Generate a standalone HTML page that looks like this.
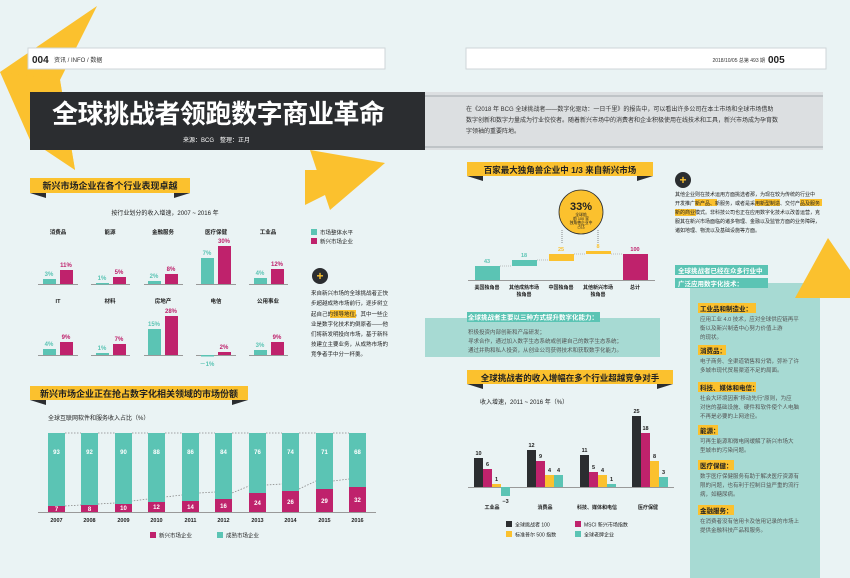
<!DOCTYPE html>
<html><head><meta charset="utf-8"><style>
html,body{margin:0;padding:0;background:#eaf3f4;}
svg{display:block;font-family:"Liberation Sans","Noto Sans CJK SC",sans-serif;}
</style></head><body>
<svg width="850" height="578" viewBox="0 0 850 578" xmlns="http://www.w3.org/2000/svg">
<rect width="850" height="578" fill="#eaf3f4"/>
<!-- yellow shapes -->
<polygon points="97,6 0,72 75,170 60,80" fill="#fbc12e"/>
<polygon points="0,72 60,80 75,170 30,140" fill="#fbc12e"/>
<polygon points="310,150 385,163 330,210" fill="#fbc12e"/>
<polygon points="305,170 375,170 305,205" fill="#fbc12e"/>
<!-- headers -->
<rect x="28" y="48" width="357" height="21" fill="#fff" stroke="#cfd6d8"/>
<text x="32" y="63" font-size="10" font-weight="bold" fill="#222">004</text>
<text x="54" y="62" font-size="6" fill="#333">资讯 / INFO / 数据</text>
<rect x="466" y="48" width="360" height="21" fill="#fff" stroke="#cfd6d8"/>
<text x="765" y="62" font-size="5" fill="#333" text-anchor="end">2018/10/05 总第 493 期</text>
<text x="768" y="63" font-size="10" font-weight="bold" fill="#222">005</text>
<!-- title -->
<rect x="425" y="92" width="398" height="58" fill="#dcdfe1"/>
<rect x="425" y="95" width="398" height="2" fill="#bfc4c7"/>
<rect x="425" y="146" width="398" height="2" fill="#bfc4c7"/>
<rect x="30" y="92" width="395" height="58" fill="#2b2d30"/>
<text x="52" y="123" font-size="26" font-weight="bold" fill="#fff" textLength="333">全球挑战者领跑数字商业革命</text>
<text x="183" y="142" font-size="6" fill="#fff">来源：BCG　整理：正月</text>
<g font-size="6" fill="#333">
<text x="466" y="111">在《2018 年 BCG 全球挑战者——数字化驱动：一日千里》的报告中，可以看出许多公司在本土市场和全球市场借助</text>
<text x="466" y="122">数字创新和数字力量成为行业佼佼者。随着新兴市场中的消费者和企业积极使用在线技术和工具，新兴市场成为孕育数</text>
<text x="466" y="133">字领袖的重要阵地。</text>
</g>
<!-- banner 1 -->
<polygon points="30,193 46,193 46,198" fill="#2b2d30"/><polygon points="190,193 174,193 174,198" fill="#2b2d30"/>
<rect x="30" y="178" width="160" height="15" fill="#fbc12e"/>
<text x="110" y="189" font-size="9" font-weight="bold" fill="#222" text-anchor="middle">新兴市场企业在各个行业表现卓越</text>
<text x="165" y="215" font-size="6" fill="#222" text-anchor="middle">按行业划分的收入增速，2007 ~ 2016 年</text>
<g font-size="5.5" font-weight="bold" fill="#222" text-anchor="middle">
<text x="58" y="234">消费品</text><text x="110" y="234">能源</text><text x="163" y="234">金融服务</text><text x="216" y="234">医疗保健</text><text x="268" y="234">工业品</text>
<text x="58" y="303">IT</text><text x="110" y="303">材料</text><text x="163" y="303">房地产</text><text x="216" y="303">电信</text><text x="268" y="303">公用事业</text>
</g>
<g stroke="#999" stroke-width="1">
<line x1="38" y1="284.5" x2="78" y2="284.5"/><line x1="91" y1="284.5" x2="130" y2="284.5"/><line x1="144" y1="284.5" x2="183" y2="284.5"/><line x1="196" y1="284.5" x2="236" y2="284.5"/><line x1="249" y1="284.5" x2="288" y2="284.5"/>
<line x1="38" y1="355.5" x2="78" y2="355.5"/><line x1="91" y1="355.5" x2="130" y2="355.5"/><line x1="144" y1="355.5" x2="183" y2="355.5"/><line x1="196" y1="355.5" x2="236" y2="355.5"/><line x1="249" y1="355.5" x2="288" y2="355.5"/>
</g>
<g fill="#5bc4b4">
<rect x="43" y="279" width="13" height="5"/><rect x="96" y="283" width="13" height="1.5"/><rect x="148" y="281" width="13" height="3"/><rect x="201" y="258" width="13" height="26"/><rect x="254" y="278" width="13" height="6"/>
<rect x="43" y="349" width="13" height="6"/><rect x="96" y="353" width="13" height="2"/><rect x="148" y="329" width="13" height="26"/><rect x="201" y="355" width="13" height="1.5"/><rect x="254" y="350" width="13" height="5"/>
</g>
<g fill="#bf226c">
<rect x="60" y="270" width="13" height="14"/><rect x="113" y="277" width="13" height="7"/><rect x="165" y="274" width="13" height="10"/><rect x="218" y="246" width="13" height="38"/><rect x="271" y="269" width="13" height="15"/>
<rect x="60" y="342" width="13" height="13"/><rect x="113" y="344" width="13" height="11"/><rect x="165" y="316" width="13" height="39"/><rect x="218" y="352" width="13" height="3"/><rect x="271" y="342" width="13" height="13"/>
</g>
<g font-size="6" font-weight="bold" text-anchor="middle">
<g fill="#5bc4b4"><text x="49" y="276">3%</text><text x="102" y="280">1%</text><text x="154" y="278">2%</text><text x="207" y="255">7%</text><text x="260" y="275">4%</text>
<text x="49" y="346">4%</text><text x="102" y="350">1%</text><text x="154" y="326">15%</text><text x="207" y="366">－1%</text><text x="260" y="347">3%</text></g>
<g fill="#bf226c"><text x="66" y="267">11%</text><text x="119" y="274">5%</text><text x="171" y="271">8%</text><text x="224" y="243">30%</text><text x="277" y="266">12%</text>
<text x="66" y="339">9%</text><text x="119" y="341">7%</text><text x="171" y="313">28%</text><text x="224" y="349">2%</text><text x="277" y="339">9%</text></g>
</g>
<rect x="311" y="229" width="6" height="6" fill="#5bc4b4"/><text x="320" y="234.5" font-size="5.5" fill="#222">市场整体水平</text>
<rect x="311" y="238" width="6" height="6" fill="#bf226c"/><text x="320" y="243.5" font-size="5.5" fill="#222">新兴市场企业</text>
<circle cx="320" cy="276" r="8" fill="#2b2d30"/><text x="320" y="280" font-size="12" font-weight="bold" fill="#fbc12e" text-anchor="middle">+</text>
<rect x="330" y="310" width="26" height="8" fill="#fbc12e"/>
<g font-size="5.5" fill="#222">
<text x="311" y="295">来自新兴市场的全球挑战者正快</text>
<text x="311" y="305">步超越成熟市场前行，逐步树立</text>
<text x="311" y="316">起自己的领导地位。其中一些企</text>
<text x="311" y="326">业是数字化技术的倒原者——他</text>
<text x="311" y="336">们将新发明投向市场，基于新科</text>
<text x="311" y="346">技建立主要业务，从成熟市场的</text>
<text x="311" y="356">竞争者手中分一杯羹。</text>
</g>
<!-- banner 2 -->
<polygon points="30,400 46,400 46,405" fill="#2b2d30"/><polygon points="248,400 232,400 232,405" fill="#2b2d30"/>
<rect x="30" y="386" width="218" height="14" fill="#fbc12e"/>
<text x="139" y="397" font-size="9" font-weight="bold" fill="#222" text-anchor="middle">新兴市场企业正在抢占数字化相关领域的市场份额</text>
<text x="48" y="420" font-size="6" fill="#222">全球互联网软件和服务收入占比（%）</text>
<line x1="38" y1="512.5" x2="376" y2="512.5" stroke="#999"/>
<g id="stack">
</g>
<g stroke="#888" stroke-dasharray="1.5,1.5" stroke-width="0.8" fill="none">
<polyline points="65,433 81,433"/><polyline points="98,433 115,433"/><polyline points="132,433 148,433"/><polyline points="165,433 182,433"/><polyline points="199,433 215,433"/><polyline points="232,433 249,433"/><polyline points="266,433 282,433"/><polyline points="299,433 316,433"/><polyline points="333,433 349,433"/>
<polyline points="65,506 81,505 98,504 115,503 132,501 148,499 165,497 182,495 199,493 215,492 232,493 249,486 266,485 282,484 299,489 316,481 333,481 349,479"/>
</g>
<g font-size="6" font-weight="bold" text-anchor="middle">
</g>
<!-- stacked bars -->
<g>
<rect x="48" y="433" width="17" height="73" fill="#5bc4b4"/><rect x="48" y="506" width="17" height="6" fill="#bf226c"/>
<rect x="81" y="433" width="17" height="72" fill="#5bc4b4"/><rect x="81" y="505" width="17" height="7" fill="#bf226c"/>
<rect x="115" y="433" width="17" height="71" fill="#5bc4b4"/><rect x="115" y="504" width="17" height="8" fill="#bf226c"/>
<rect x="148" y="433" width="17" height="69" fill="#5bc4b4"/><rect x="148" y="502" width="17" height="10" fill="#bf226c"/>
<rect x="182" y="433" width="17" height="68" fill="#5bc4b4"/><rect x="182" y="501" width="17" height="11" fill="#bf226c"/>
<rect x="215" y="433" width="17" height="66" fill="#5bc4b4"/><rect x="215" y="499" width="17" height="13" fill="#bf226c"/>
<rect x="249" y="433" width="17" height="60" fill="#5bc4b4"/><rect x="249" y="493" width="17" height="19" fill="#bf226c"/>
<rect x="282" y="433" width="17" height="58" fill="#5bc4b4"/><rect x="282" y="491" width="17" height="21" fill="#bf226c"/>
<rect x="316" y="433" width="17" height="56" fill="#5bc4b4"/><rect x="316" y="489" width="17" height="23" fill="#bf226c"/>
<rect x="349" y="433" width="17" height="54" fill="#5bc4b4"/><rect x="349" y="487" width="17" height="25" fill="#bf226c"/>
</g>
<g font-size="6" font-weight="bold" fill="#fff" text-anchor="middle">
<text x="56.5" y="454">93</text><text x="89.5" y="454">92</text><text x="123.5" y="454">90</text><text x="156.5" y="454">88</text><text x="190.5" y="454">86</text><text x="223.5" y="454">84</text><text x="257.5" y="454">76</text><text x="290.5" y="454">74</text><text x="324.5" y="454">71</text><text x="357.5" y="454">68</text>
<text x="56.5" y="511">7</text><text x="89.5" y="511">8</text><text x="123.5" y="510">10</text><text x="156.5" y="509">12</text><text x="190.5" y="509">14</text><text x="223.5" y="508">16</text><text x="257.5" y="505">24</text><text x="290.5" y="504">26</text><text x="324.5" y="503">29</text><text x="357.5" y="502">32</text>
</g>
<g font-size="5.5" font-weight="bold" fill="#222" text-anchor="middle">
<text x="56.5" y="522">2007</text><text x="89.5" y="522">2008</text><text x="123.5" y="522">2009</text><text x="156.5" y="522">2010</text><text x="190.5" y="522">2011</text><text x="223.5" y="522">2012</text><text x="257.5" y="522">2013</text><text x="290.5" y="522">2014</text><text x="324.5" y="522">2015</text><text x="357.5" y="522">2016</text>
</g>
<rect x="150" y="532" width="6" height="6" fill="#bf226c"/><text x="159" y="537.5" font-size="5.5" fill="#222">新兴市场企业</text>
<rect x="217" y="532" width="6" height="6" fill="#5bc4b4"/><text x="226" y="537.5" font-size="5.5" fill="#222">成熟市场企业</text>

<!-- right page banner 3 -->
<polygon points="467,176 483,176 483,181" fill="#2b2d30"/><polygon points="653,176 637,176 637,181" fill="#2b2d30"/>
<rect x="467" y="162" width="186" height="14" fill="#fbc12e"/>
<text x="560" y="173" font-size="8.5" font-weight="bold" fill="#222" text-anchor="middle">百家最大独角兽企业中 1/3 来自新兴市场</text>
<circle cx="581" cy="212" r="22" fill="#fbc12e" stroke="#2b2d30" stroke-width="0.8"/>
<text x="581" y="210" font-size="11" font-weight="bold" fill="#222" text-anchor="middle">33%</text>
<g font-size="3.8" fill="#222" text-anchor="middle"><text x="581" y="216">全球前</text><text x="581" y="220">前 100 家</text><text x="581" y="224">独角兽企业中</text><text x="581" y="228">占比</text></g>
<line x1="562" y1="230" x2="562" y2="243" stroke="#444" stroke-width="0.6" stroke-dasharray="1,1"/>
<line x1="598" y1="230" x2="598" y2="243" stroke="#444" stroke-width="0.6" stroke-dasharray="1,1"/>
<line x1="468" y1="280.5" x2="655" y2="280.5" stroke="#999"/>
<rect x="475" y="266" width="25" height="14" fill="#5bc4b4"/>
<rect x="512" y="260" width="25" height="6" fill="#5bc4b4"/>
<rect x="549" y="254" width="25" height="7" fill="#fbc12e"/>
<rect x="586" y="251" width="25" height="3" fill="#fbc12e"/>
<rect x="623" y="254" width="25" height="26" fill="#bf226c"/>
<g stroke="#888" stroke-dasharray="1,1" stroke-width="0.6"><line x1="500" y1="266" x2="512" y2="266"/><line x1="537" y1="260" x2="549" y2="260"/><line x1="574" y1="254" x2="586" y2="254"/><line x1="611" y1="254" x2="623" y2="254"/></g>
<g font-size="5.5" font-weight="bold" text-anchor="middle">
<text x="487" y="263" fill="#5bc4b4">43</text><text x="524" y="257" fill="#5bc4b4">18</text><text x="561" y="251" fill="#fbc12e">25</text><text x="598" y="248" fill="#fbc12e">8</text><text x="635" y="251" fill="#bf226c">100</text>
</g>
<g font-size="5" font-weight="bold" fill="#222" text-anchor="middle">
<text x="487" y="289">美国独角兽</text><text x="524" y="289">其他成熟市场</text><text x="524" y="296">独角兽</text><text x="561" y="289">中国独角兽</text><text x="598" y="289">其他新兴市场</text><text x="598" y="296">独角兽</text><text x="635" y="289">总计</text>
</g>
<rect x="425" y="318" width="235" height="39" fill="#a7dad3"/>
<rect x="467" y="312" width="133" height="10" fill="#5bc4b4"/>
<text x="533" y="319.5" font-size="6.5" font-weight="bold" fill="#fff" text-anchor="middle">全球挑战者主要以三种方式提升数字化能力：</text>
<g font-size="5.5" fill="#555"><text x="468" y="334">积极投资内部创新和产品研发；</text><text x="468" y="343">寻求合作，通过加入数字生态系统或创建自己的数字生态系统；</text><text x="468" y="352">通过并购和私人投资，从创业公司获得技术和获取数字化能力。</text></g>

<!-- banner 4 -->
<polygon points="467,384 483,384 483,389" fill="#2b2d30"/><polygon points="673,384 657,384 657,389" fill="#2b2d30"/>
<rect x="467" y="370" width="206" height="14" fill="#fbc12e"/>
<text x="570" y="381" font-size="8.5" font-weight="bold" fill="#222" text-anchor="middle">全球挑战者的收入增幅在多个行业超越竞争对手</text>
<text x="480" y="404" font-size="6" fill="#222">收入增速，2011 ~ 2016 年（%）</text>
<line x1="468" y1="487.5" x2="674" y2="487.5" stroke="#999"/>
<g>
<rect x="474" y="458" width="9" height="29" fill="#2b2d30"/><rect x="483" y="469" width="9" height="18" fill="#bf226c"/><rect x="492" y="484" width="9" height="3" fill="#fbc12e"/><rect x="501" y="487" width="9" height="9" fill="#5bc4b4"/>
<rect x="527" y="450" width="9" height="37" fill="#2b2d30"/><rect x="536" y="461" width="9" height="26" fill="#bf226c"/><rect x="545" y="475" width="9" height="12" fill="#fbc12e"/><rect x="554" y="475" width="9" height="12" fill="#5bc4b4"/>
<rect x="580" y="455" width="9" height="32" fill="#2b2d30"/><rect x="589" y="472" width="9" height="15" fill="#bf226c"/><rect x="598" y="475" width="9" height="12" fill="#fbc12e"/><rect x="607" y="484" width="9" height="3" fill="#5bc4b4"/>
<rect x="632" y="416" width="9" height="71" fill="#2b2d30"/><rect x="641" y="433" width="9" height="54" fill="#bf226c"/><rect x="650" y="461" width="9" height="26" fill="#fbc12e"/><rect x="659" y="477" width="9" height="10" fill="#5bc4b4"/>
</g>
<g font-size="5.5" font-weight="bold" fill="#222" text-anchor="middle">
<text x="478.5" y="455">10</text><text x="487.5" y="466">6</text><text x="496.5" y="481">1</text><text x="505.5" y="503">−3</text>
<text x="531.5" y="447">12</text><text x="540.5" y="458">9</text><text x="549.5" y="472">4</text><text x="558.5" y="472">4</text>
<text x="584.5" y="452">11</text><text x="593.5" y="469">5</text><text x="602.5" y="472">4</text><text x="611.5" y="481">1</text>
<text x="636.5" y="413">25</text><text x="645.5" y="430">18</text><text x="654.5" y="458">8</text><text x="663.5" y="474">3</text>
</g>
<g font-size="5" font-weight="bold" fill="#222" text-anchor="middle">
<text x="492" y="509">工业品</text><text x="545" y="509">消费品</text><text x="597" y="509">科技、媒体和电信</text><text x="648" y="509">医疗保健</text>
</g>
<g font-size="5" fill="#222">
<rect x="506" y="521" width="6" height="6" fill="#2b2d30"/><text x="515" y="526.5">全球挑战者 100</text>
<rect x="575" y="521" width="6" height="6" fill="#bf226c"/><text x="584" y="526.5">MSCI 新兴市场指数</text>
<rect x="506" y="531" width="6" height="6" fill="#fbc12e"/><text x="515" y="536.5">标准普尔 500 指数</text>
<rect x="575" y="531" width="6" height="6" fill="#5bc4b4"/><text x="584" y="536.5">全球老牌企业</text>
</g>

<!-- right column -->
<circle cx="683" cy="180" r="8" fill="#2b2d30"/><text x="683" y="184" font-size="12" font-weight="bold" fill="#fbc12e" text-anchor="middle">+</text>
<rect x="695" y="199" width="22" height="7" fill="#fbc12e"/><rect x="755" y="199" width="25" height="7" fill="#fbc12e"/><rect x="800" y="199" width="22" height="7" fill="#fbc12e"/><rect x="675" y="209" width="21" height="7" fill="#fbc12e"/>
<g font-size="5" fill="#222">
<text x="675" y="196">其他企业则在技术运用方面挑选者那，为现在较为传统的行业中</text>
<text x="675" y="205">开发推广新产品、新服务，或者是采用新型制造、交付产品及服务</text>
<text x="675" y="214">新的商业模式。非科技公司也正在应用数字化技术以改善运营，克</text>
<text x="675" y="223">服其在新兴市场面临的诸多物理、金融以及监管方面的业务障碍，</text>
<text x="675" y="232">诸如地理、物流以及基础设施等方面。</text>
</g>
<rect x="690" y="283" width="130" height="295" fill="#a7dad3"/>
<polygon points="828,238 795,298 850,298 850,270" fill="#fbc12e"/>
<rect x="675" y="265" width="93" height="10" fill="#5bc4b4"/>
<text x="678" y="273" font-size="6.5" font-weight="bold" fill="#fff">全球挑战者已经在众多行业中</text>
<rect x="675" y="278" width="93" height="10" fill="#5bc4b4"/>
<text x="678" y="286" font-size="6.5" font-weight="bold" fill="#fff">广泛应用数字化技术：</text>
<g font-size="6.5" font-weight="bold" fill="#222">
<rect x="698" y="303" width="58" height="10" fill="#fbc12e"/><text x="700" y="311">工业品和制造业：</text>
<rect x="698" y="345" width="28" height="10" fill="#fbc12e"/><text x="700" y="353">消费品：</text>
<rect x="698" y="382" width="58" height="10" fill="#fbc12e"/><text x="700" y="390">科技、媒体和电信：</text>
<rect x="698" y="425" width="20" height="10" fill="#fbc12e"/><text x="700" y="433">能源：</text>
<rect x="698" y="460" width="36" height="10" fill="#fbc12e"/><text x="700" y="468">医疗保健：</text>
<rect x="698" y="505" width="36" height="10" fill="#fbc12e"/><text x="700" y="513">金融服务：</text>
</g>
<g font-size="5.5" fill="#555">
<text x="700" y="321">应用工业 4.0 技术，应对全球供应链再平</text><text x="700" y="330">衡以及新兴制造中心努力价值上游</text><text x="700" y="339">的现状。</text>
<text x="700" y="363">电子商务、全渠道销售和分销，弥补了许</text><text x="700" y="372">多城市现代贸易渠道不足的局面。</text>
<text x="700" y="400">社会大环境因素“移动先行”原则，为应</text><text x="700" y="409">对信的基础设施、硬件和软件使个人电脑</text><text x="700" y="418">不再是必要的上网途径。</text>
<text x="700" y="443">可再生能源和微电网缓解了新兴市场大</text><text x="700" y="452">型城市的污染问题。</text>
<text x="700" y="478">数字医疗保健服务有助于解决医疗资源有</text><text x="700" y="487">限的问题，也有利于控制日益严重的流行</text><text x="700" y="496">病，如糖尿病。</text>
<text x="700" y="523">在消费者没有信用卡及信用记录的市场上</text><text x="700" y="532">提供金融科技产品和服务。</text>
</g>
</svg>
</body></html>
